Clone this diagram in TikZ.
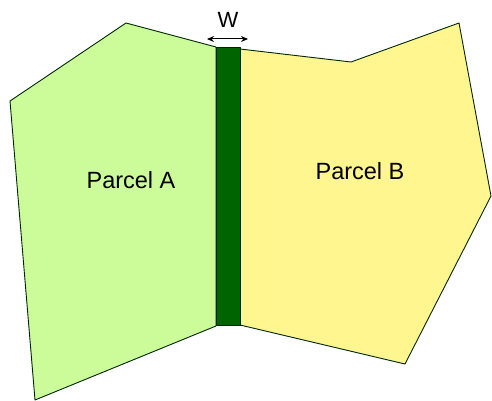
\documentclass[tikz,border=0pt]{standalone}
\usepackage{fontspec}
\usetikzlibrary{arrows.meta}
\setmainfont{Liberation Sans}
\definecolor{parcelA}{HTML}{CCFB9A}
\definecolor{parcelB}{HTML}{FFF68F}
\definecolor{strip}{HTML}{006400}
\begin{document}
\begin{tikzpicture}[x=1pt,y=-1pt,line join=round,line cap=round,>={Stealth[length=7pt,width=6pt]}]
			\tikzset{parcel/.style={draw=black!85!green,line width=0.9pt},
				label/.style={font=\fontsize{23.5}{26}\selectfont}}
			\useasboundingbox (0,0) rectangle (492,401);
			% parcel A
			\draw[parcel,fill=parcelA] (10,101)--(126,23)--(216,47)--(216,326)--(35,400)--cycle;
			% parcel B
			\draw[parcel,fill=parcelB] (240,49)--(351,62)--(459,23)--(491,196)--(405,364)--(240,325)--cycle;
			% strip
			\draw[parcel,fill=strip] (216,47) rectangle (240,325);
			\node[label] (pa) at (131,180) {Parcel A};
			\node[label] (pb) at (360,171) {Parcel B};
			% width
			\coordinate (wl) at (207,39);
			\coordinate (wr) at (248,39);
			\draw[<->,line width=1pt] (wl)--(wr);
			\node[font=\fontsize{22}{24}\selectfont] (w) at (228,20) {W};
	\end{tikzpicture}
\end{document}
